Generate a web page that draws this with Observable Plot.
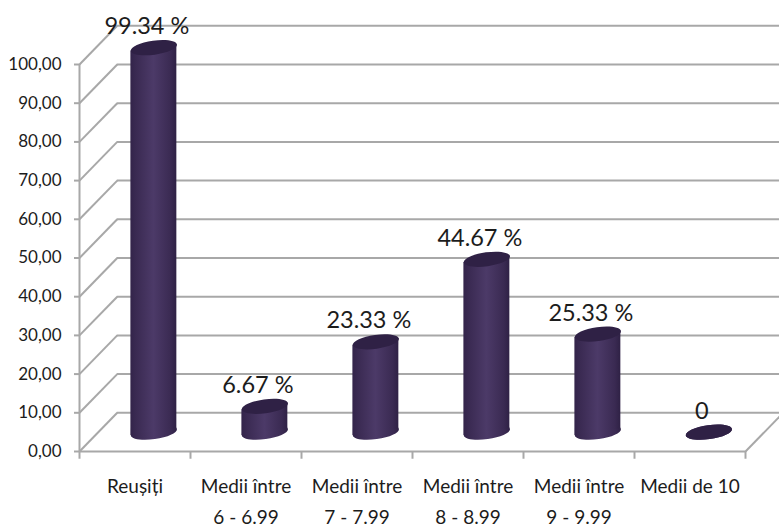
<!DOCTYPE html>
<html><head><meta charset="utf-8">
<script src="https://cdn.jsdelivr.net/npm/d3@7"></script>
<script src="https://cdn.jsdelivr.net/npm/@observablehq/plot@0.6"></script>
<style>html,body{margin:0;padding:0;background:#fff}svg{display:block}</style>
</head><body><div id="chart"></div>
<script>
const categories = ["Reușiți","Medii între\n6 - 6.99","Medii între\n7 - 7.99","Medii între\n8 - 8.99","Medii între\n9 - 9.99","Medii de 10"];
const values = [99.34, 6.67, 23.33, 44.67, 25.33, 0];
const valueLabels = ["99.34 %","6.67 %","23.33 %","44.67 %","25.33 %","0"];
const yTicks = [0,10,20,30,40,50,60,70,80,90,100];
const xEdges = [0,1,2,3,4,5,6];

const depthX = 0.34, depthY = 10;         // the chart's 3-D box depth, in data units
const barHalf = 0.207, tiltDeg = 8, tiltY = 0.85;
const rows = values.map((v,i)=>({i, v, cat:categories[i], label:valueLabels[i],
  cx:i+0.5+depthX/2, base:depthY/2, top:v+depthY/2}));
// each cylinder body: left and right edge, tilted like its end caps
const sides = rows.flatMap(d=>[
  {i:d.i, x:d.cx-barHalf, y1:d.base-tiltY, y2:d.top-tiltY},
  {i:d.i, x:d.cx+barHalf, y1:d.base+tiltY, y2:d.top+tiltY}
]);

const font = "Lato,'Liberation Sans',sans-serif";
const grid = "#a8a8a8";

const ellipse = {draw(ctx,size){
  const a=Math.sqrt(size/Math.PI), b=a*0.3, t=-tiltDeg*Math.PI/180, k=0.5523;
  const P=(x,y)=>[x*Math.cos(t)-y*Math.sin(t), x*Math.sin(t)+y*Math.cos(t)];
  const C=(x1,y1,x2,y2,x,y)=>ctx.bezierCurveTo(...P(x1,y1),...P(x2,y2),...P(x,y));
  ctx.moveTo(...P(a,0));
  C(a,k*b,k*a,b,0,b); C(-k*a,b,-a,k*b,-a,0); C(-a,-k*b,-k*a,-b,0,-b); C(k*a,-b,a,-k*b,a,0);
  ctx.closePath();
}};

const defs = () => {
  const d = d3.create("svg:defs");
  const g = d.append("linearGradient").attr("id","cyl");
  [[0,"#33244a"],[0.12,"#3a2a52"],[0.5,"#4c3a68"],[0.88,"#3a2a52"],[1,"#2f2145"]].forEach(([o,c])=>
    g.append("stop").attr("offset",o).attr("stop-color",c));
  return d.node();
};

const chart = Plot.plot({
  width:779, height:529,
  marginLeft:79, marginRight:34, marginTop:64, marginBottom:78,
  style:{background:"#fff", fontFamily:font},
  x:{type:"linear", domain:[0,6], axis:null},
  y:{type:"linear", domain:[0,100], axis:null},
  marks:[
    defs,
    // back wall gridlines
    Plot.ruleY(yTicks,{y:d=>d+depthY, x1:depthX, x2:6+depthX, stroke:grid, strokeWidth:2}),
    // side wall diagonals
    Plot.link(yTicks,{x1:0, y1:d=>d, x2:depthX, y2:d=>d+depthY, stroke:grid, strokeWidth:2}),
    // floor right edge
    Plot.link([0],{x1:6, y1:0, x2:6+depthX, y2:depthY, stroke:grid, strokeWidth:2}),
    // front axes
    Plot.ruleX([0],{y1:0, y2:100, stroke:grid, strokeWidth:2}),
    Plot.ruleY([0],{x1:0, x2:6, stroke:grid, strokeWidth:2}),
    Plot.ruleX(xEdges,{y1:0, y2:-2, stroke:grid, strokeWidth:2}),
    Plot.axisY(yTicks,{anchor:"left", tickSize:5, tickPadding:13, stroke:grid, strokeWidth:2,
      tickFormat:d=>d3.format(".2f")(d).replace(".",","), fontSize:17, fill:"#1c1c1c"}),
    // cylinders
    Plot.dot(rows,{x:"cx", y:"base", r:23.3, symbol:ellipse, fill:"url(#cyl)", stroke:null}),
    Plot.areaY(sides,{x:"x", y1:"y1", y2:"y2", z:"i", fill:"url(#cyl)"}),
    Plot.dot(rows,{x:"cx", y:"top", r:23.3, symbol:ellipse, fill:"#2f2145", stroke:null}),
    // value labels
    Plot.text(rows,{x:"cx", y:"top", text:"label", dx:-7, dy:-21, fontSize:23.5, fill:"#1c1c1c"}),
    // category labels
    Plot.text(rows,{x:d=>d.i+0.5, y:0, text:"cat", dy:20, lineAnchor:"top", lineHeight:1.62, fontSize:19, fill:"#1c1c1c"})
  ]
});
document.getElementById("chart").append(chart);
</script></body></html>
